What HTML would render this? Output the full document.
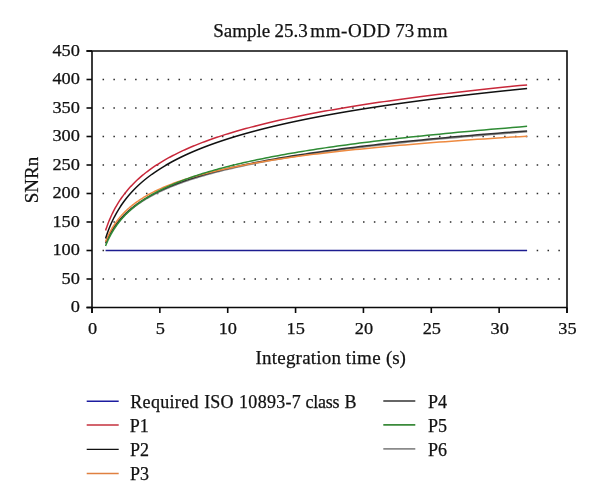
<!DOCTYPE html>
<html><head><meta charset="utf-8"><style>
html,body{margin:0;padding:0;background:#fff;}
body{width:600px;height:503px;overflow:hidden;}
svg{display:block;will-change:transform;}
text{font-family:"Liberation Serif",serif;fill:#111;stroke:#111;stroke-width:0.25px;}
</style></head><body>
<svg width="600" height="503" viewBox="0 0 600 503">
<rect x="102.55" y="278.25" width="1.5" height="1.5" fill="#2a2a2a"/>
<rect x="113.40" y="278.25" width="1.5" height="1.5" fill="#2a2a2a"/>
<rect x="124.26" y="278.25" width="1.5" height="1.5" fill="#2a2a2a"/>
<rect x="135.11" y="278.25" width="1.5" height="1.5" fill="#2a2a2a"/>
<rect x="145.96" y="278.25" width="1.5" height="1.5" fill="#2a2a2a"/>
<rect x="156.81" y="278.25" width="1.5" height="1.5" fill="#2a2a2a"/>
<rect x="167.67" y="278.25" width="1.5" height="1.5" fill="#2a2a2a"/>
<rect x="178.52" y="278.25" width="1.5" height="1.5" fill="#2a2a2a"/>
<rect x="189.37" y="278.25" width="1.5" height="1.5" fill="#2a2a2a"/>
<rect x="200.23" y="278.25" width="1.5" height="1.5" fill="#2a2a2a"/>
<rect x="211.08" y="278.25" width="1.5" height="1.5" fill="#2a2a2a"/>
<rect x="221.93" y="278.25" width="1.5" height="1.5" fill="#2a2a2a"/>
<rect x="232.79" y="278.25" width="1.5" height="1.5" fill="#2a2a2a"/>
<rect x="243.64" y="278.25" width="1.5" height="1.5" fill="#2a2a2a"/>
<rect x="254.49" y="278.25" width="1.5" height="1.5" fill="#2a2a2a"/>
<rect x="265.34" y="278.25" width="1.5" height="1.5" fill="#2a2a2a"/>
<rect x="276.20" y="278.25" width="1.5" height="1.5" fill="#2a2a2a"/>
<rect x="287.05" y="278.25" width="1.5" height="1.5" fill="#2a2a2a"/>
<rect x="297.90" y="278.25" width="1.5" height="1.5" fill="#2a2a2a"/>
<rect x="308.76" y="278.25" width="1.5" height="1.5" fill="#2a2a2a"/>
<rect x="319.61" y="278.25" width="1.5" height="1.5" fill="#2a2a2a"/>
<rect x="330.46" y="278.25" width="1.5" height="1.5" fill="#2a2a2a"/>
<rect x="341.32" y="278.25" width="1.5" height="1.5" fill="#2a2a2a"/>
<rect x="352.17" y="278.25" width="1.5" height="1.5" fill="#2a2a2a"/>
<rect x="363.02" y="278.25" width="1.5" height="1.5" fill="#2a2a2a"/>
<rect x="373.88" y="278.25" width="1.5" height="1.5" fill="#2a2a2a"/>
<rect x="384.73" y="278.25" width="1.5" height="1.5" fill="#2a2a2a"/>
<rect x="395.58" y="278.25" width="1.5" height="1.5" fill="#2a2a2a"/>
<rect x="406.43" y="278.25" width="1.5" height="1.5" fill="#2a2a2a"/>
<rect x="417.29" y="278.25" width="1.5" height="1.5" fill="#2a2a2a"/>
<rect x="428.14" y="278.25" width="1.5" height="1.5" fill="#2a2a2a"/>
<rect x="438.99" y="278.25" width="1.5" height="1.5" fill="#2a2a2a"/>
<rect x="449.85" y="278.25" width="1.5" height="1.5" fill="#2a2a2a"/>
<rect x="460.70" y="278.25" width="1.5" height="1.5" fill="#2a2a2a"/>
<rect x="471.55" y="278.25" width="1.5" height="1.5" fill="#2a2a2a"/>
<rect x="482.41" y="278.25" width="1.5" height="1.5" fill="#2a2a2a"/>
<rect x="493.26" y="278.25" width="1.5" height="1.5" fill="#2a2a2a"/>
<rect x="504.11" y="278.25" width="1.5" height="1.5" fill="#2a2a2a"/>
<rect x="514.96" y="278.25" width="1.5" height="1.5" fill="#2a2a2a"/>
<rect x="525.82" y="278.25" width="1.5" height="1.5" fill="#2a2a2a"/>
<rect x="536.67" y="278.25" width="1.5" height="1.5" fill="#2a2a2a"/>
<rect x="547.52" y="278.25" width="1.5" height="1.5" fill="#2a2a2a"/>
<rect x="558.38" y="278.25" width="1.5" height="1.5" fill="#2a2a2a"/>
<rect x="102.55" y="249.75" width="1.5" height="1.5" fill="#2a2a2a"/>
<rect x="536.67" y="249.75" width="1.5" height="1.5" fill="#2a2a2a"/>
<rect x="547.52" y="249.75" width="1.5" height="1.5" fill="#2a2a2a"/>
<rect x="558.38" y="249.75" width="1.5" height="1.5" fill="#2a2a2a"/>
<rect x="102.55" y="221.25" width="1.5" height="1.5" fill="#2a2a2a"/>
<rect x="113.40" y="221.25" width="1.5" height="1.5" fill="#2a2a2a"/>
<rect x="124.26" y="221.25" width="1.5" height="1.5" fill="#2a2a2a"/>
<rect x="135.11" y="221.25" width="1.5" height="1.5" fill="#2a2a2a"/>
<rect x="145.96" y="221.25" width="1.5" height="1.5" fill="#2a2a2a"/>
<rect x="156.81" y="221.25" width="1.5" height="1.5" fill="#2a2a2a"/>
<rect x="167.67" y="221.25" width="1.5" height="1.5" fill="#2a2a2a"/>
<rect x="178.52" y="221.25" width="1.5" height="1.5" fill="#2a2a2a"/>
<rect x="189.37" y="221.25" width="1.5" height="1.5" fill="#2a2a2a"/>
<rect x="200.23" y="221.25" width="1.5" height="1.5" fill="#2a2a2a"/>
<rect x="211.08" y="221.25" width="1.5" height="1.5" fill="#2a2a2a"/>
<rect x="221.93" y="221.25" width="1.5" height="1.5" fill="#2a2a2a"/>
<rect x="232.79" y="221.25" width="1.5" height="1.5" fill="#2a2a2a"/>
<rect x="243.64" y="221.25" width="1.5" height="1.5" fill="#2a2a2a"/>
<rect x="254.49" y="221.25" width="1.5" height="1.5" fill="#2a2a2a"/>
<rect x="265.34" y="221.25" width="1.5" height="1.5" fill="#2a2a2a"/>
<rect x="276.20" y="221.25" width="1.5" height="1.5" fill="#2a2a2a"/>
<rect x="287.05" y="221.25" width="1.5" height="1.5" fill="#2a2a2a"/>
<rect x="297.90" y="221.25" width="1.5" height="1.5" fill="#2a2a2a"/>
<rect x="308.76" y="221.25" width="1.5" height="1.5" fill="#2a2a2a"/>
<rect x="319.61" y="221.25" width="1.5" height="1.5" fill="#2a2a2a"/>
<rect x="330.46" y="221.25" width="1.5" height="1.5" fill="#2a2a2a"/>
<rect x="341.32" y="221.25" width="1.5" height="1.5" fill="#2a2a2a"/>
<rect x="352.17" y="221.25" width="1.5" height="1.5" fill="#2a2a2a"/>
<rect x="363.02" y="221.25" width="1.5" height="1.5" fill="#2a2a2a"/>
<rect x="373.88" y="221.25" width="1.5" height="1.5" fill="#2a2a2a"/>
<rect x="384.73" y="221.25" width="1.5" height="1.5" fill="#2a2a2a"/>
<rect x="395.58" y="221.25" width="1.5" height="1.5" fill="#2a2a2a"/>
<rect x="406.43" y="221.25" width="1.5" height="1.5" fill="#2a2a2a"/>
<rect x="417.29" y="221.25" width="1.5" height="1.5" fill="#2a2a2a"/>
<rect x="428.14" y="221.25" width="1.5" height="1.5" fill="#2a2a2a"/>
<rect x="438.99" y="221.25" width="1.5" height="1.5" fill="#2a2a2a"/>
<rect x="449.85" y="221.25" width="1.5" height="1.5" fill="#2a2a2a"/>
<rect x="460.70" y="221.25" width="1.5" height="1.5" fill="#2a2a2a"/>
<rect x="471.55" y="221.25" width="1.5" height="1.5" fill="#2a2a2a"/>
<rect x="482.41" y="221.25" width="1.5" height="1.5" fill="#2a2a2a"/>
<rect x="493.26" y="221.25" width="1.5" height="1.5" fill="#2a2a2a"/>
<rect x="504.11" y="221.25" width="1.5" height="1.5" fill="#2a2a2a"/>
<rect x="514.96" y="221.25" width="1.5" height="1.5" fill="#2a2a2a"/>
<rect x="525.82" y="221.25" width="1.5" height="1.5" fill="#2a2a2a"/>
<rect x="536.67" y="221.25" width="1.5" height="1.5" fill="#2a2a2a"/>
<rect x="547.52" y="221.25" width="1.5" height="1.5" fill="#2a2a2a"/>
<rect x="558.38" y="221.25" width="1.5" height="1.5" fill="#2a2a2a"/>
<rect x="102.55" y="192.75" width="1.5" height="1.5" fill="#2a2a2a"/>
<rect x="113.40" y="192.75" width="1.5" height="1.5" fill="#2a2a2a"/>
<rect x="124.26" y="192.75" width="1.5" height="1.5" fill="#2a2a2a"/>
<rect x="135.11" y="192.75" width="1.5" height="1.5" fill="#2a2a2a"/>
<rect x="145.96" y="192.75" width="1.5" height="1.5" fill="#2a2a2a"/>
<rect x="156.81" y="192.75" width="1.5" height="1.5" fill="#2a2a2a"/>
<rect x="167.67" y="192.75" width="1.5" height="1.5" fill="#2a2a2a"/>
<rect x="178.52" y="192.75" width="1.5" height="1.5" fill="#2a2a2a"/>
<rect x="189.37" y="192.75" width="1.5" height="1.5" fill="#2a2a2a"/>
<rect x="200.23" y="192.75" width="1.5" height="1.5" fill="#2a2a2a"/>
<rect x="211.08" y="192.75" width="1.5" height="1.5" fill="#2a2a2a"/>
<rect x="221.93" y="192.75" width="1.5" height="1.5" fill="#2a2a2a"/>
<rect x="232.79" y="192.75" width="1.5" height="1.5" fill="#2a2a2a"/>
<rect x="243.64" y="192.75" width="1.5" height="1.5" fill="#2a2a2a"/>
<rect x="254.49" y="192.75" width="1.5" height="1.5" fill="#2a2a2a"/>
<rect x="265.34" y="192.75" width="1.5" height="1.5" fill="#2a2a2a"/>
<rect x="276.20" y="192.75" width="1.5" height="1.5" fill="#2a2a2a"/>
<rect x="287.05" y="192.75" width="1.5" height="1.5" fill="#2a2a2a"/>
<rect x="297.90" y="192.75" width="1.5" height="1.5" fill="#2a2a2a"/>
<rect x="308.76" y="192.75" width="1.5" height="1.5" fill="#2a2a2a"/>
<rect x="319.61" y="192.75" width="1.5" height="1.5" fill="#2a2a2a"/>
<rect x="330.46" y="192.75" width="1.5" height="1.5" fill="#2a2a2a"/>
<rect x="341.32" y="192.75" width="1.5" height="1.5" fill="#2a2a2a"/>
<rect x="352.17" y="192.75" width="1.5" height="1.5" fill="#2a2a2a"/>
<rect x="363.02" y="192.75" width="1.5" height="1.5" fill="#2a2a2a"/>
<rect x="373.88" y="192.75" width="1.5" height="1.5" fill="#2a2a2a"/>
<rect x="384.73" y="192.75" width="1.5" height="1.5" fill="#2a2a2a"/>
<rect x="395.58" y="192.75" width="1.5" height="1.5" fill="#2a2a2a"/>
<rect x="406.43" y="192.75" width="1.5" height="1.5" fill="#2a2a2a"/>
<rect x="417.29" y="192.75" width="1.5" height="1.5" fill="#2a2a2a"/>
<rect x="428.14" y="192.75" width="1.5" height="1.5" fill="#2a2a2a"/>
<rect x="438.99" y="192.75" width="1.5" height="1.5" fill="#2a2a2a"/>
<rect x="449.85" y="192.75" width="1.5" height="1.5" fill="#2a2a2a"/>
<rect x="460.70" y="192.75" width="1.5" height="1.5" fill="#2a2a2a"/>
<rect x="471.55" y="192.75" width="1.5" height="1.5" fill="#2a2a2a"/>
<rect x="482.41" y="192.75" width="1.5" height="1.5" fill="#2a2a2a"/>
<rect x="493.26" y="192.75" width="1.5" height="1.5" fill="#2a2a2a"/>
<rect x="504.11" y="192.75" width="1.5" height="1.5" fill="#2a2a2a"/>
<rect x="514.96" y="192.75" width="1.5" height="1.5" fill="#2a2a2a"/>
<rect x="525.82" y="192.75" width="1.5" height="1.5" fill="#2a2a2a"/>
<rect x="536.67" y="192.75" width="1.5" height="1.5" fill="#2a2a2a"/>
<rect x="547.52" y="192.75" width="1.5" height="1.5" fill="#2a2a2a"/>
<rect x="558.38" y="192.75" width="1.5" height="1.5" fill="#2a2a2a"/>
<rect x="102.55" y="164.25" width="1.5" height="1.5" fill="#2a2a2a"/>
<rect x="113.40" y="164.25" width="1.5" height="1.5" fill="#2a2a2a"/>
<rect x="124.26" y="164.25" width="1.5" height="1.5" fill="#2a2a2a"/>
<rect x="135.11" y="164.25" width="1.5" height="1.5" fill="#2a2a2a"/>
<rect x="145.96" y="164.25" width="1.5" height="1.5" fill="#2a2a2a"/>
<rect x="156.81" y="164.25" width="1.5" height="1.5" fill="#2a2a2a"/>
<rect x="167.67" y="164.25" width="1.5" height="1.5" fill="#2a2a2a"/>
<rect x="178.52" y="164.25" width="1.5" height="1.5" fill="#2a2a2a"/>
<rect x="189.37" y="164.25" width="1.5" height="1.5" fill="#2a2a2a"/>
<rect x="200.23" y="164.25" width="1.5" height="1.5" fill="#2a2a2a"/>
<rect x="211.08" y="164.25" width="1.5" height="1.5" fill="#2a2a2a"/>
<rect x="221.93" y="164.25" width="1.5" height="1.5" fill="#2a2a2a"/>
<rect x="232.79" y="164.25" width="1.5" height="1.5" fill="#2a2a2a"/>
<rect x="243.64" y="164.25" width="1.5" height="1.5" fill="#2a2a2a"/>
<rect x="254.49" y="164.25" width="1.5" height="1.5" fill="#2a2a2a"/>
<rect x="265.34" y="164.25" width="1.5" height="1.5" fill="#2a2a2a"/>
<rect x="276.20" y="164.25" width="1.5" height="1.5" fill="#2a2a2a"/>
<rect x="287.05" y="164.25" width="1.5" height="1.5" fill="#2a2a2a"/>
<rect x="297.90" y="164.25" width="1.5" height="1.5" fill="#2a2a2a"/>
<rect x="308.76" y="164.25" width="1.5" height="1.5" fill="#2a2a2a"/>
<rect x="319.61" y="164.25" width="1.5" height="1.5" fill="#2a2a2a"/>
<rect x="330.46" y="164.25" width="1.5" height="1.5" fill="#2a2a2a"/>
<rect x="341.32" y="164.25" width="1.5" height="1.5" fill="#2a2a2a"/>
<rect x="352.17" y="164.25" width="1.5" height="1.5" fill="#2a2a2a"/>
<rect x="363.02" y="164.25" width="1.5" height="1.5" fill="#2a2a2a"/>
<rect x="373.88" y="164.25" width="1.5" height="1.5" fill="#2a2a2a"/>
<rect x="384.73" y="164.25" width="1.5" height="1.5" fill="#2a2a2a"/>
<rect x="395.58" y="164.25" width="1.5" height="1.5" fill="#2a2a2a"/>
<rect x="406.43" y="164.25" width="1.5" height="1.5" fill="#2a2a2a"/>
<rect x="417.29" y="164.25" width="1.5" height="1.5" fill="#2a2a2a"/>
<rect x="428.14" y="164.25" width="1.5" height="1.5" fill="#2a2a2a"/>
<rect x="438.99" y="164.25" width="1.5" height="1.5" fill="#2a2a2a"/>
<rect x="449.85" y="164.25" width="1.5" height="1.5" fill="#2a2a2a"/>
<rect x="460.70" y="164.25" width="1.5" height="1.5" fill="#2a2a2a"/>
<rect x="471.55" y="164.25" width="1.5" height="1.5" fill="#2a2a2a"/>
<rect x="482.41" y="164.25" width="1.5" height="1.5" fill="#2a2a2a"/>
<rect x="493.26" y="164.25" width="1.5" height="1.5" fill="#2a2a2a"/>
<rect x="504.11" y="164.25" width="1.5" height="1.5" fill="#2a2a2a"/>
<rect x="514.96" y="164.25" width="1.5" height="1.5" fill="#2a2a2a"/>
<rect x="525.82" y="164.25" width="1.5" height="1.5" fill="#2a2a2a"/>
<rect x="536.67" y="164.25" width="1.5" height="1.5" fill="#2a2a2a"/>
<rect x="547.52" y="164.25" width="1.5" height="1.5" fill="#2a2a2a"/>
<rect x="558.38" y="164.25" width="1.5" height="1.5" fill="#2a2a2a"/>
<rect x="102.55" y="135.75" width="1.5" height="1.5" fill="#2a2a2a"/>
<rect x="113.40" y="135.75" width="1.5" height="1.5" fill="#2a2a2a"/>
<rect x="124.26" y="135.75" width="1.5" height="1.5" fill="#2a2a2a"/>
<rect x="135.11" y="135.75" width="1.5" height="1.5" fill="#2a2a2a"/>
<rect x="145.96" y="135.75" width="1.5" height="1.5" fill="#2a2a2a"/>
<rect x="156.81" y="135.75" width="1.5" height="1.5" fill="#2a2a2a"/>
<rect x="167.67" y="135.75" width="1.5" height="1.5" fill="#2a2a2a"/>
<rect x="178.52" y="135.75" width="1.5" height="1.5" fill="#2a2a2a"/>
<rect x="189.37" y="135.75" width="1.5" height="1.5" fill="#2a2a2a"/>
<rect x="200.23" y="135.75" width="1.5" height="1.5" fill="#2a2a2a"/>
<rect x="211.08" y="135.75" width="1.5" height="1.5" fill="#2a2a2a"/>
<rect x="221.93" y="135.75" width="1.5" height="1.5" fill="#2a2a2a"/>
<rect x="232.79" y="135.75" width="1.5" height="1.5" fill="#2a2a2a"/>
<rect x="243.64" y="135.75" width="1.5" height="1.5" fill="#2a2a2a"/>
<rect x="254.49" y="135.75" width="1.5" height="1.5" fill="#2a2a2a"/>
<rect x="265.34" y="135.75" width="1.5" height="1.5" fill="#2a2a2a"/>
<rect x="276.20" y="135.75" width="1.5" height="1.5" fill="#2a2a2a"/>
<rect x="287.05" y="135.75" width="1.5" height="1.5" fill="#2a2a2a"/>
<rect x="297.90" y="135.75" width="1.5" height="1.5" fill="#2a2a2a"/>
<rect x="308.76" y="135.75" width="1.5" height="1.5" fill="#2a2a2a"/>
<rect x="319.61" y="135.75" width="1.5" height="1.5" fill="#2a2a2a"/>
<rect x="330.46" y="135.75" width="1.5" height="1.5" fill="#2a2a2a"/>
<rect x="341.32" y="135.75" width="1.5" height="1.5" fill="#2a2a2a"/>
<rect x="352.17" y="135.75" width="1.5" height="1.5" fill="#2a2a2a"/>
<rect x="363.02" y="135.75" width="1.5" height="1.5" fill="#2a2a2a"/>
<rect x="373.88" y="135.75" width="1.5" height="1.5" fill="#2a2a2a"/>
<rect x="384.73" y="135.75" width="1.5" height="1.5" fill="#2a2a2a"/>
<rect x="395.58" y="135.75" width="1.5" height="1.5" fill="#2a2a2a"/>
<rect x="406.43" y="135.75" width="1.5" height="1.5" fill="#2a2a2a"/>
<rect x="417.29" y="135.75" width="1.5" height="1.5" fill="#2a2a2a"/>
<rect x="428.14" y="135.75" width="1.5" height="1.5" fill="#2a2a2a"/>
<rect x="438.99" y="135.75" width="1.5" height="1.5" fill="#2a2a2a"/>
<rect x="449.85" y="135.75" width="1.5" height="1.5" fill="#2a2a2a"/>
<rect x="460.70" y="135.75" width="1.5" height="1.5" fill="#2a2a2a"/>
<rect x="471.55" y="135.75" width="1.5" height="1.5" fill="#2a2a2a"/>
<rect x="482.41" y="135.75" width="1.5" height="1.5" fill="#2a2a2a"/>
<rect x="493.26" y="135.75" width="1.5" height="1.5" fill="#2a2a2a"/>
<rect x="504.11" y="135.75" width="1.5" height="1.5" fill="#2a2a2a"/>
<rect x="514.96" y="135.75" width="1.5" height="1.5" fill="#2a2a2a"/>
<rect x="525.82" y="135.75" width="1.5" height="1.5" fill="#2a2a2a"/>
<rect x="536.67" y="135.75" width="1.5" height="1.5" fill="#2a2a2a"/>
<rect x="547.52" y="135.75" width="1.5" height="1.5" fill="#2a2a2a"/>
<rect x="558.38" y="135.75" width="1.5" height="1.5" fill="#2a2a2a"/>
<rect x="102.55" y="107.25" width="1.5" height="1.5" fill="#2a2a2a"/>
<rect x="113.40" y="107.25" width="1.5" height="1.5" fill="#2a2a2a"/>
<rect x="124.26" y="107.25" width="1.5" height="1.5" fill="#2a2a2a"/>
<rect x="135.11" y="107.25" width="1.5" height="1.5" fill="#2a2a2a"/>
<rect x="145.96" y="107.25" width="1.5" height="1.5" fill="#2a2a2a"/>
<rect x="156.81" y="107.25" width="1.5" height="1.5" fill="#2a2a2a"/>
<rect x="167.67" y="107.25" width="1.5" height="1.5" fill="#2a2a2a"/>
<rect x="178.52" y="107.25" width="1.5" height="1.5" fill="#2a2a2a"/>
<rect x="189.37" y="107.25" width="1.5" height="1.5" fill="#2a2a2a"/>
<rect x="200.23" y="107.25" width="1.5" height="1.5" fill="#2a2a2a"/>
<rect x="211.08" y="107.25" width="1.5" height="1.5" fill="#2a2a2a"/>
<rect x="221.93" y="107.25" width="1.5" height="1.5" fill="#2a2a2a"/>
<rect x="232.79" y="107.25" width="1.5" height="1.5" fill="#2a2a2a"/>
<rect x="243.64" y="107.25" width="1.5" height="1.5" fill="#2a2a2a"/>
<rect x="254.49" y="107.25" width="1.5" height="1.5" fill="#2a2a2a"/>
<rect x="265.34" y="107.25" width="1.5" height="1.5" fill="#2a2a2a"/>
<rect x="276.20" y="107.25" width="1.5" height="1.5" fill="#2a2a2a"/>
<rect x="287.05" y="107.25" width="1.5" height="1.5" fill="#2a2a2a"/>
<rect x="297.90" y="107.25" width="1.5" height="1.5" fill="#2a2a2a"/>
<rect x="308.76" y="107.25" width="1.5" height="1.5" fill="#2a2a2a"/>
<rect x="319.61" y="107.25" width="1.5" height="1.5" fill="#2a2a2a"/>
<rect x="330.46" y="107.25" width="1.5" height="1.5" fill="#2a2a2a"/>
<rect x="341.32" y="107.25" width="1.5" height="1.5" fill="#2a2a2a"/>
<rect x="352.17" y="107.25" width="1.5" height="1.5" fill="#2a2a2a"/>
<rect x="363.02" y="107.25" width="1.5" height="1.5" fill="#2a2a2a"/>
<rect x="373.88" y="107.25" width="1.5" height="1.5" fill="#2a2a2a"/>
<rect x="384.73" y="107.25" width="1.5" height="1.5" fill="#2a2a2a"/>
<rect x="395.58" y="107.25" width="1.5" height="1.5" fill="#2a2a2a"/>
<rect x="406.43" y="107.25" width="1.5" height="1.5" fill="#2a2a2a"/>
<rect x="417.29" y="107.25" width="1.5" height="1.5" fill="#2a2a2a"/>
<rect x="428.14" y="107.25" width="1.5" height="1.5" fill="#2a2a2a"/>
<rect x="438.99" y="107.25" width="1.5" height="1.5" fill="#2a2a2a"/>
<rect x="449.85" y="107.25" width="1.5" height="1.5" fill="#2a2a2a"/>
<rect x="460.70" y="107.25" width="1.5" height="1.5" fill="#2a2a2a"/>
<rect x="471.55" y="107.25" width="1.5" height="1.5" fill="#2a2a2a"/>
<rect x="482.41" y="107.25" width="1.5" height="1.5" fill="#2a2a2a"/>
<rect x="493.26" y="107.25" width="1.5" height="1.5" fill="#2a2a2a"/>
<rect x="504.11" y="107.25" width="1.5" height="1.5" fill="#2a2a2a"/>
<rect x="514.96" y="107.25" width="1.5" height="1.5" fill="#2a2a2a"/>
<rect x="525.82" y="107.25" width="1.5" height="1.5" fill="#2a2a2a"/>
<rect x="536.67" y="107.25" width="1.5" height="1.5" fill="#2a2a2a"/>
<rect x="547.52" y="107.25" width="1.5" height="1.5" fill="#2a2a2a"/>
<rect x="558.38" y="107.25" width="1.5" height="1.5" fill="#2a2a2a"/>
<rect x="102.55" y="78.75" width="1.5" height="1.5" fill="#2a2a2a"/>
<rect x="113.40" y="78.75" width="1.5" height="1.5" fill="#2a2a2a"/>
<rect x="124.26" y="78.75" width="1.5" height="1.5" fill="#2a2a2a"/>
<rect x="135.11" y="78.75" width="1.5" height="1.5" fill="#2a2a2a"/>
<rect x="145.96" y="78.75" width="1.5" height="1.5" fill="#2a2a2a"/>
<rect x="156.81" y="78.75" width="1.5" height="1.5" fill="#2a2a2a"/>
<rect x="167.67" y="78.75" width="1.5" height="1.5" fill="#2a2a2a"/>
<rect x="178.52" y="78.75" width="1.5" height="1.5" fill="#2a2a2a"/>
<rect x="189.37" y="78.75" width="1.5" height="1.5" fill="#2a2a2a"/>
<rect x="200.23" y="78.75" width="1.5" height="1.5" fill="#2a2a2a"/>
<rect x="211.08" y="78.75" width="1.5" height="1.5" fill="#2a2a2a"/>
<rect x="221.93" y="78.75" width="1.5" height="1.5" fill="#2a2a2a"/>
<rect x="232.79" y="78.75" width="1.5" height="1.5" fill="#2a2a2a"/>
<rect x="243.64" y="78.75" width="1.5" height="1.5" fill="#2a2a2a"/>
<rect x="254.49" y="78.75" width="1.5" height="1.5" fill="#2a2a2a"/>
<rect x="265.34" y="78.75" width="1.5" height="1.5" fill="#2a2a2a"/>
<rect x="276.20" y="78.75" width="1.5" height="1.5" fill="#2a2a2a"/>
<rect x="287.05" y="78.75" width="1.5" height="1.5" fill="#2a2a2a"/>
<rect x="297.90" y="78.75" width="1.5" height="1.5" fill="#2a2a2a"/>
<rect x="308.76" y="78.75" width="1.5" height="1.5" fill="#2a2a2a"/>
<rect x="319.61" y="78.75" width="1.5" height="1.5" fill="#2a2a2a"/>
<rect x="330.46" y="78.75" width="1.5" height="1.5" fill="#2a2a2a"/>
<rect x="341.32" y="78.75" width="1.5" height="1.5" fill="#2a2a2a"/>
<rect x="352.17" y="78.75" width="1.5" height="1.5" fill="#2a2a2a"/>
<rect x="363.02" y="78.75" width="1.5" height="1.5" fill="#2a2a2a"/>
<rect x="373.88" y="78.75" width="1.5" height="1.5" fill="#2a2a2a"/>
<rect x="384.73" y="78.75" width="1.5" height="1.5" fill="#2a2a2a"/>
<rect x="395.58" y="78.75" width="1.5" height="1.5" fill="#2a2a2a"/>
<rect x="406.43" y="78.75" width="1.5" height="1.5" fill="#2a2a2a"/>
<rect x="417.29" y="78.75" width="1.5" height="1.5" fill="#2a2a2a"/>
<rect x="428.14" y="78.75" width="1.5" height="1.5" fill="#2a2a2a"/>
<rect x="438.99" y="78.75" width="1.5" height="1.5" fill="#2a2a2a"/>
<rect x="449.85" y="78.75" width="1.5" height="1.5" fill="#2a2a2a"/>
<rect x="460.70" y="78.75" width="1.5" height="1.5" fill="#2a2a2a"/>
<rect x="471.55" y="78.75" width="1.5" height="1.5" fill="#2a2a2a"/>
<rect x="482.41" y="78.75" width="1.5" height="1.5" fill="#2a2a2a"/>
<rect x="493.26" y="78.75" width="1.5" height="1.5" fill="#2a2a2a"/>
<rect x="504.11" y="78.75" width="1.5" height="1.5" fill="#2a2a2a"/>
<rect x="514.96" y="78.75" width="1.5" height="1.5" fill="#2a2a2a"/>
<rect x="525.82" y="78.75" width="1.5" height="1.5" fill="#2a2a2a"/>
<rect x="536.67" y="78.75" width="1.5" height="1.5" fill="#2a2a2a"/>
<rect x="547.52" y="78.75" width="1.5" height="1.5" fill="#2a2a2a"/>
<rect x="558.38" y="78.75" width="1.5" height="1.5" fill="#2a2a2a"/>
<path d="M86.5,51.0 H567.0 V313.0 M92.0,51.0 V313.0 M86.5,307.5 H567.0" stroke="#0a0a0a" stroke-width="1.6" fill="none"/>
<path d="M86.5,307.50 H92.0" stroke="#0a0a0a" stroke-width="1.6"/>
<text transform="translate(70.70,312.40) scale(1.09,1)" style="font-size:16.8px">0</text>
<path d="M86.5,279.00 H92.0" stroke="#0a0a0a" stroke-width="1.6"/>
<text transform="translate(61.54,283.90) scale(1.09,1)" style="font-size:16.8px">50</text>
<path d="M86.5,250.50 H92.0" stroke="#0a0a0a" stroke-width="1.6"/>
<text transform="translate(52.39,255.40) scale(1.09,1)" style="font-size:16.8px">100</text>
<path d="M86.5,222.00 H92.0" stroke="#0a0a0a" stroke-width="1.6"/>
<text transform="translate(52.39,226.90) scale(1.09,1)" style="font-size:16.8px">150</text>
<path d="M86.5,193.50 H92.0" stroke="#0a0a0a" stroke-width="1.6"/>
<text transform="translate(52.39,198.40) scale(1.09,1)" style="font-size:16.8px">200</text>
<path d="M86.5,165.00 H92.0" stroke="#0a0a0a" stroke-width="1.6"/>
<text transform="translate(52.39,169.90) scale(1.09,1)" style="font-size:16.8px">250</text>
<path d="M86.5,136.50 H92.0" stroke="#0a0a0a" stroke-width="1.6"/>
<text transform="translate(52.39,141.40) scale(1.09,1)" style="font-size:16.8px">300</text>
<path d="M86.5,108.00 H92.0" stroke="#0a0a0a" stroke-width="1.6"/>
<text transform="translate(52.39,112.90) scale(1.09,1)" style="font-size:16.8px">350</text>
<path d="M86.5,79.50 H92.0" stroke="#0a0a0a" stroke-width="1.6"/>
<text transform="translate(52.39,84.40) scale(1.09,1)" style="font-size:16.8px">400</text>
<path d="M86.5,51.00 H92.0" stroke="#0a0a0a" stroke-width="1.6"/>
<text transform="translate(52.39,55.90) scale(1.09,1)" style="font-size:16.8px">450</text>
<path d="M92.00,307.5 V313.0" stroke="#0a0a0a" stroke-width="1.6"/>
<text transform="translate(88.02,334.40) scale(1.09,1)" style="font-size:16.8px">0</text>
<path d="M159.86,307.5 V313.0" stroke="#0a0a0a" stroke-width="1.6"/>
<text transform="translate(155.66,334.40) scale(1.09,1)" style="font-size:16.8px">5</text>
<path d="M227.71,307.5 V313.0" stroke="#0a0a0a" stroke-width="1.6"/>
<text transform="translate(218.67,334.40) scale(1.09,1)" style="font-size:16.8px">10</text>
<path d="M295.57,307.5 V313.0" stroke="#0a0a0a" stroke-width="1.6"/>
<text transform="translate(286.52,334.40) scale(1.09,1)" style="font-size:16.8px">15</text>
<path d="M363.43,307.5 V313.0" stroke="#0a0a0a" stroke-width="1.6"/>
<text transform="translate(354.82,334.40) scale(1.09,1)" style="font-size:16.8px">20</text>
<path d="M431.29,307.5 V313.0" stroke="#0a0a0a" stroke-width="1.6"/>
<text transform="translate(422.68,334.40) scale(1.09,1)" style="font-size:16.8px">25</text>
<path d="M499.14,307.5 V313.0" stroke="#0a0a0a" stroke-width="1.6"/>
<text transform="translate(490.48,334.40) scale(1.09,1)" style="font-size:16.8px">30</text>
<path d="M567.00,307.5 V313.0" stroke="#0a0a0a" stroke-width="1.6"/>
<text transform="translate(558.34,334.40) scale(1.09,1)" style="font-size:16.8px">35</text>
<path d="M105.57,250.50 H527.10" stroke="#1c1c90" stroke-width="1.6"/>
<path d="M105.57,243.66 L105.81,243.10 L106.05,242.54 L106.30,241.98 L106.55,241.42 L106.80,240.86 L107.06,240.30 L107.32,239.74 L107.59,239.19 L107.86,238.63 L108.14,238.07 L108.42,237.51 L108.71,236.95 L109.00,236.39 L109.30,235.83 L109.60,235.27 L109.91,234.71 L110.22,234.15 L110.54,233.59 L110.87,233.03 L111.20,232.47 L111.53,231.91 L111.87,231.35 L112.22,230.79 L112.58,230.24 L112.93,229.68 L113.30,229.12 L113.67,228.56 L114.05,228.00 L114.44,227.44 L114.83,226.88 L115.23,226.32 L115.64,225.76 L116.05,225.20 L116.47,224.64 L116.90,224.08 L117.33,223.52 L117.78,222.96 L118.23,222.40 L118.69,221.84 L119.15,221.29 L119.63,220.73 L120.11,220.17 L120.60,219.61 L121.10,219.05 L121.61,218.49 L122.13,217.93 L122.66,217.37 L123.19,216.81 L123.74,216.25 L124.29,215.69 L124.86,215.13 L125.43,214.57 L126.02,214.01 L126.61,213.45 L127.22,212.90 L127.83,212.34 L128.46,211.78 L129.10,211.22 L129.75,210.66 L130.41,210.10 L131.08,209.54 L131.76,208.98 L132.46,208.42 L133.17,207.86 L133.89,207.30 L134.62,206.74 L135.36,206.18 L136.12,205.62 L136.89,205.06 L137.68,204.50 L138.48,203.95 L139.29,203.39 L140.12,202.83 L140.96,202.27 L141.82,201.71 L142.69,201.15 L143.57,200.59 L144.47,200.03 L145.39,199.47 L146.33,198.91 L147.28,198.35 L148.24,197.79 L149.23,197.23 L150.23,196.67 L151.25,196.11 L152.28,195.56 L153.34,195.00 L154.41,194.44 L155.50,193.88 L156.61,193.32 L157.74,192.76 L158.89,192.20 L160.06,191.64 L161.25,191.08 L162.46,190.52 L163.69,189.96 L164.95,189.40 L166.22,188.84 L167.52,188.28 L168.84,187.72 L170.19,187.16 L171.55,186.61 L172.95,186.05 L174.36,185.49 L175.80,184.93 L177.27,184.37 L178.76,183.81 L180.28,183.25 L181.82,182.69 L183.39,182.13 L184.99,181.57 L186.62,181.01 L188.27,180.45 L189.95,179.89 L191.67,179.33 L193.41,178.77 L195.18,178.21 L196.99,177.66 L198.83,177.10 L200.69,176.54 L202.59,175.98 L204.53,175.42 L206.50,174.86 L208.50,174.30 L210.54,173.74 L212.61,173.18 L214.72,172.62 L216.87,172.06 L219.05,171.50 L221.27,170.94 L223.53,170.38 L225.83,169.82 L228.17,169.27 L230.55,168.71 L232.98,168.15 L235.44,167.59 L237.95,167.03 L240.50,166.47 L243.10,165.91 L245.74,165.35 L248.43,164.79 L251.17,164.23 L253.95,163.67 L256.79,163.11 L259.67,162.55 L262.60,161.99 L265.58,161.43 L268.62,160.87 L271.71,160.32 L274.85,159.76 L278.05,159.20 L281.30,158.64 L284.61,158.08 L287.98,157.52 L291.41,156.96 L294.90,156.40 L298.45,155.84 L302.06,155.28 L305.73,154.72 L309.47,154.16 L313.27,153.60 L317.14,153.04 L321.08,152.48 L325.09,151.92 L329.16,151.37 L333.31,150.81 L337.53,150.25 L341.82,149.69 L346.19,149.13 L350.64,148.57 L355.16,148.01 L359.77,147.45 L364.45,146.89 L369.21,146.33 L374.06,145.77 L378.99,145.21 L384.01,144.65 L389.12,144.09 L394.32,143.53 L399.60,142.98 L404.98,142.42 L410.46,141.86 L416.03,141.30 L421.69,140.74 L427.46,140.18 L433.33,139.62 L439.30,139.06 L445.37,138.50 L451.55,137.94 L457.84,137.38 L464.24,136.82 L470.75,136.26 L477.37,135.70 L484.11,135.14 L490.97,134.58 L497.95,134.03 L505.05,133.47 L512.27,132.91 L519.62,132.35 L527.10,131.79" stroke="#8a8a8a" stroke-width="1.5" fill="none"/>
<path d="M105.57,242.81 L105.81,242.25 L106.05,241.69 L106.30,241.13 L106.55,240.57 L106.80,240.01 L107.06,239.45 L107.32,238.89 L107.59,238.33 L107.86,237.77 L108.14,237.21 L108.42,236.65 L108.71,236.09 L109.00,235.53 L109.30,234.97 L109.60,234.41 L109.91,233.86 L110.22,233.30 L110.54,232.74 L110.87,232.18 L111.20,231.62 L111.53,231.06 L111.87,230.50 L112.22,229.94 L112.58,229.38 L112.93,228.82 L113.30,228.26 L113.67,227.70 L114.05,227.14 L114.44,226.58 L114.83,226.02 L115.23,225.46 L115.64,224.91 L116.05,224.35 L116.47,223.79 L116.90,223.23 L117.33,222.67 L117.78,222.11 L118.23,221.55 L118.69,220.99 L119.15,220.43 L119.63,219.87 L120.11,219.31 L120.60,218.75 L121.10,218.19 L121.61,217.63 L122.13,217.07 L122.66,216.52 L123.19,215.96 L123.74,215.40 L124.29,214.84 L124.86,214.28 L125.43,213.72 L126.02,213.16 L126.61,212.60 L127.22,212.04 L127.83,211.48 L128.46,210.92 L129.10,210.36 L129.75,209.80 L130.41,209.24 L131.08,208.68 L131.76,208.12 L132.46,207.57 L133.17,207.01 L133.89,206.45 L134.62,205.89 L135.36,205.33 L136.12,204.77 L136.89,204.21 L137.68,203.65 L138.48,203.09 L139.29,202.53 L140.12,201.97 L140.96,201.41 L141.82,200.85 L142.69,200.29 L143.57,199.73 L144.47,199.17 L145.39,198.62 L146.33,198.06 L147.28,197.50 L148.24,196.94 L149.23,196.38 L150.23,195.82 L151.25,195.26 L152.28,194.70 L153.34,194.14 L154.41,193.58 L155.50,193.02 L156.61,192.46 L157.74,191.90 L158.89,191.34 L160.06,190.78 L161.25,190.23 L162.46,189.67 L163.69,189.11 L164.95,188.55 L166.22,187.99 L167.52,187.43 L168.84,186.87 L170.19,186.31 L171.55,185.75 L172.95,185.19 L174.36,184.63 L175.80,184.07 L177.27,183.51 L178.76,182.95 L180.28,182.39 L181.82,181.83 L183.39,181.28 L184.99,180.72 L186.62,180.16 L188.27,179.60 L189.95,179.04 L191.67,178.48 L193.41,177.92 L195.18,177.36 L196.99,176.80 L198.83,176.24 L200.69,175.68 L202.59,175.12 L204.53,174.56 L206.50,174.00 L208.50,173.44 L210.54,172.88 L212.61,172.33 L214.72,171.77 L216.87,171.21 L219.05,170.65 L221.27,170.09 L223.53,169.53 L225.83,168.97 L228.17,168.41 L230.55,167.85 L232.98,167.29 L235.44,166.73 L237.95,166.17 L240.50,165.61 L243.10,165.05 L245.74,164.49 L248.43,163.94 L251.17,163.38 L253.95,162.82 L256.79,162.26 L259.67,161.70 L262.60,161.14 L265.58,160.58 L268.62,160.02 L271.71,159.46 L274.85,158.90 L278.05,158.34 L281.30,157.78 L284.61,157.22 L287.98,156.66 L291.41,156.10 L294.90,155.54 L298.45,154.99 L302.06,154.43 L305.73,153.87 L309.47,153.31 L313.27,152.75 L317.14,152.19 L321.08,151.63 L325.09,151.07 L329.16,150.51 L333.31,149.95 L337.53,149.39 L341.82,148.83 L346.19,148.27 L350.64,147.71 L355.16,147.15 L359.77,146.60 L364.45,146.04 L369.21,145.48 L374.06,144.92 L378.99,144.36 L384.01,143.80 L389.12,143.24 L394.32,142.68 L399.60,142.12 L404.98,141.56 L410.46,141.00 L416.03,140.44 L421.69,139.88 L427.46,139.32 L433.33,138.76 L439.30,138.20 L445.37,137.65 L451.55,137.09 L457.84,136.53 L464.24,135.97 L470.75,135.41 L477.37,134.85 L484.11,134.29 L490.97,133.73 L497.95,133.17 L505.05,132.61 L512.27,132.05 L519.62,131.49 L527.10,130.93" stroke="#333333" stroke-width="1.5" fill="none"/>
<path d="M105.57,241.67 L105.81,241.06 L106.05,240.46 L106.30,239.86 L106.55,239.26 L106.80,238.66 L107.06,238.06 L107.32,237.46 L107.59,236.87 L107.86,236.27 L108.14,235.67 L108.42,235.08 L108.71,234.49 L109.00,233.89 L109.30,233.30 L109.60,232.71 L109.91,232.12 L110.22,231.53 L110.54,230.94 L110.87,230.35 L111.20,229.76 L111.53,229.17 L111.87,228.58 L112.22,228.00 L112.58,227.41 L112.93,226.83 L113.30,226.25 L113.67,225.66 L114.05,225.08 L114.44,224.50 L114.83,223.92 L115.23,223.34 L115.64,222.76 L116.05,222.18 L116.47,221.60 L116.90,221.03 L117.33,220.45 L117.78,219.88 L118.23,219.30 L118.69,218.73 L119.15,218.15 L119.63,217.58 L120.11,217.01 L120.60,216.44 L121.10,215.87 L121.61,215.30 L122.13,214.73 L122.66,214.16 L123.19,213.60 L123.74,213.03 L124.29,212.47 L124.86,211.90 L125.43,211.34 L126.02,210.77 L126.61,210.21 L127.22,209.65 L127.83,209.09 L128.46,208.53 L129.10,207.97 L129.75,207.41 L130.41,206.85 L131.08,206.29 L131.76,205.74 L132.46,205.18 L133.17,204.63 L133.89,204.07 L134.62,203.52 L135.36,202.97 L136.12,202.41 L136.89,201.86 L137.68,201.31 L138.48,200.76 L139.29,200.21 L140.12,199.67 L140.96,199.12 L141.82,198.57 L142.69,198.03 L143.57,197.48 L144.47,196.94 L145.39,196.39 L146.33,195.85 L147.28,195.31 L148.24,194.77 L149.23,194.23 L150.23,193.69 L151.25,193.15 L152.28,192.61 L153.34,192.07 L154.41,191.53 L155.50,191.00 L156.61,190.46 L157.74,189.93 L158.89,189.39 L160.06,188.86 L161.25,188.33 L162.46,187.80 L163.69,187.27 L164.95,186.74 L166.22,186.21 L167.52,185.68 L168.84,185.15 L170.19,184.62 L171.55,184.10 L172.95,183.57 L174.36,183.05 L175.80,182.52 L177.27,182.00 L178.76,181.48 L180.28,180.95 L181.82,180.43 L183.39,179.91 L184.99,179.39 L186.62,178.88 L188.27,178.36 L189.95,177.84 L191.67,177.32 L193.41,176.81 L195.18,176.29 L196.99,175.78 L198.83,175.26 L200.69,174.75 L202.59,174.24 L204.53,173.73 L206.50,173.22 L208.50,172.71 L210.54,172.20 L212.61,171.69 L214.72,171.18 L216.87,170.68 L219.05,170.17 L221.27,169.67 L223.53,169.16 L225.83,168.66 L228.17,168.15 L230.55,167.65 L232.98,167.15 L235.44,166.65 L237.95,166.15 L240.50,165.65 L243.10,165.15 L245.74,164.66 L248.43,164.16 L251.17,163.66 L253.95,163.17 L256.79,162.67 L259.67,162.18 L262.60,161.69 L265.58,161.19 L268.62,160.70 L271.71,160.21 L274.85,159.72 L278.05,159.23 L281.30,158.74 L284.61,158.25 L287.98,157.77 L291.41,157.28 L294.90,156.80 L298.45,156.31 L302.06,155.83 L305.73,155.34 L309.47,154.86 L313.27,154.38 L317.14,153.90 L321.08,153.42 L325.09,152.94 L329.16,152.46 L333.31,151.98 L337.53,151.50 L341.82,151.03 L346.19,150.55 L350.64,150.08 L355.16,149.60 L359.77,149.13 L364.45,148.66 L369.21,148.18 L374.06,147.71 L378.99,147.24 L384.01,146.77 L389.12,146.30 L394.32,145.83 L399.60,145.37 L404.98,144.90 L410.46,144.43 L416.03,143.97 L421.69,143.50 L427.46,143.04 L433.33,142.58 L439.30,142.12 L445.37,141.65 L451.55,141.19 L457.84,140.73 L464.24,140.27 L470.75,139.82 L477.37,139.36 L484.11,138.90 L490.97,138.44 L497.95,137.99 L505.05,137.53 L512.27,137.08 L519.62,136.63 L527.10,136.17" stroke="#ee8a40" stroke-width="1.5" fill="none"/>
<path d="M105.57,245.94 L105.81,245.34 L106.05,244.74 L106.30,244.15 L106.55,243.55 L106.80,242.95 L107.06,242.35 L107.32,241.75 L107.59,241.16 L107.86,240.56 L108.14,239.96 L108.42,239.36 L108.71,238.77 L109.00,238.17 L109.30,237.57 L109.60,236.97 L109.91,236.37 L110.22,235.78 L110.54,235.18 L110.87,234.58 L111.20,233.98 L111.53,233.38 L111.87,232.79 L112.22,232.19 L112.58,231.59 L112.93,230.99 L113.30,230.39 L113.67,229.80 L114.05,229.20 L114.44,228.60 L114.83,228.00 L115.23,227.41 L115.64,226.81 L116.05,226.21 L116.47,225.61 L116.90,225.01 L117.33,224.42 L117.78,223.82 L118.23,223.22 L118.69,222.62 L119.15,222.02 L119.63,221.43 L120.11,220.83 L120.60,220.23 L121.10,219.63 L121.61,219.03 L122.13,218.44 L122.66,217.84 L123.19,217.24 L123.74,216.64 L124.29,216.04 L124.86,215.45 L125.43,214.85 L126.02,214.25 L126.61,213.65 L127.22,213.06 L127.83,212.46 L128.46,211.86 L129.10,211.26 L129.75,210.66 L130.41,210.07 L131.08,209.47 L131.76,208.87 L132.46,208.27 L133.17,207.67 L133.89,207.08 L134.62,206.48 L135.36,205.88 L136.12,205.28 L136.89,204.68 L137.68,204.09 L138.48,203.49 L139.29,202.89 L140.12,202.29 L140.96,201.70 L141.82,201.10 L142.69,200.50 L143.57,199.90 L144.47,199.30 L145.39,198.71 L146.33,198.11 L147.28,197.51 L148.24,196.91 L149.23,196.31 L150.23,195.72 L151.25,195.12 L152.28,194.52 L153.34,193.92 L154.41,193.32 L155.50,192.73 L156.61,192.13 L157.74,191.53 L158.89,190.93 L160.06,190.34 L161.25,189.74 L162.46,189.14 L163.69,188.54 L164.95,187.94 L166.22,187.35 L167.52,186.75 L168.84,186.15 L170.19,185.55 L171.55,184.95 L172.95,184.36 L174.36,183.76 L175.80,183.16 L177.27,182.56 L178.76,181.96 L180.28,181.37 L181.82,180.77 L183.39,180.17 L184.99,179.57 L186.62,178.97 L188.27,178.38 L189.95,177.78 L191.67,177.18 L193.41,176.58 L195.18,175.99 L196.99,175.39 L198.83,174.79 L200.69,174.19 L202.59,173.59 L204.53,173.00 L206.50,172.40 L208.50,171.80 L210.54,171.20 L212.61,170.60 L214.72,170.01 L216.87,169.41 L219.05,168.81 L221.27,168.21 L223.53,167.61 L225.83,167.02 L228.17,166.42 L230.55,165.82 L232.98,165.22 L235.44,164.63 L237.95,164.03 L240.50,163.43 L243.10,162.83 L245.74,162.23 L248.43,161.64 L251.17,161.04 L253.95,160.44 L256.79,159.84 L259.67,159.24 L262.60,158.65 L265.58,158.05 L268.62,157.45 L271.71,156.85 L274.85,156.25 L278.05,155.66 L281.30,155.06 L284.61,154.46 L287.98,153.86 L291.41,153.27 L294.90,152.67 L298.45,152.07 L302.06,151.47 L305.73,150.87 L309.47,150.28 L313.27,149.68 L317.14,149.08 L321.08,148.48 L325.09,147.88 L329.16,147.29 L333.31,146.69 L337.53,146.09 L341.82,145.49 L346.19,144.89 L350.64,144.30 L355.16,143.70 L359.77,143.10 L364.45,142.50 L369.21,141.90 L374.06,141.31 L378.99,140.71 L384.01,140.11 L389.12,139.51 L394.32,138.92 L399.60,138.32 L404.98,137.72 L410.46,137.12 L416.03,136.52 L421.69,135.93 L427.46,135.33 L433.33,134.73 L439.30,134.13 L445.37,133.53 L451.55,132.94 L457.84,132.34 L464.24,131.74 L470.75,131.14 L477.37,130.54 L484.11,129.95 L490.97,129.35 L497.95,128.75 L505.05,128.15 L512.27,127.56 L519.62,126.96 L527.10,126.36" stroke="#2e8b34" stroke-width="1.5" fill="none"/>
<path d="M105.57,238.53 L105.81,237.78 L106.05,237.03 L106.30,236.28 L106.55,235.53 L106.80,234.78 L107.06,234.03 L107.32,233.28 L107.59,232.53 L107.86,231.78 L108.14,231.03 L108.42,230.28 L108.71,229.53 L109.00,228.78 L109.30,228.03 L109.60,227.28 L109.91,226.53 L110.22,225.78 L110.54,225.03 L110.87,224.28 L111.20,223.53 L111.53,222.78 L111.87,222.03 L112.22,221.28 L112.58,220.53 L112.93,219.78 L113.30,219.03 L113.67,218.28 L114.05,217.53 L114.44,216.78 L114.83,216.03 L115.23,215.28 L115.64,214.53 L116.05,213.78 L116.47,213.03 L116.90,212.28 L117.33,211.53 L117.78,210.78 L118.23,210.03 L118.69,209.28 L119.15,208.53 L119.63,207.78 L120.11,207.03 L120.60,206.28 L121.10,205.53 L121.61,204.78 L122.13,204.03 L122.66,203.28 L123.19,202.53 L123.74,201.78 L124.29,201.03 L124.86,200.28 L125.43,199.53 L126.02,198.77 L126.61,198.02 L127.22,197.27 L127.83,196.52 L128.46,195.77 L129.10,195.02 L129.75,194.27 L130.41,193.52 L131.08,192.77 L131.76,192.02 L132.46,191.27 L133.17,190.52 L133.89,189.77 L134.62,189.02 L135.36,188.27 L136.12,187.52 L136.89,186.77 L137.68,186.02 L138.48,185.27 L139.29,184.52 L140.12,183.77 L140.96,183.02 L141.82,182.27 L142.69,181.52 L143.57,180.77 L144.47,180.02 L145.39,179.27 L146.33,178.52 L147.28,177.77 L148.24,177.02 L149.23,176.27 L150.23,175.52 L151.25,174.77 L152.28,174.02 L153.34,173.27 L154.41,172.52 L155.50,171.77 L156.61,171.02 L157.74,170.27 L158.89,169.52 L160.06,168.77 L161.25,168.02 L162.46,167.27 L163.69,166.52 L164.95,165.77 L166.22,165.02 L167.52,164.27 L168.84,163.52 L170.19,162.77 L171.55,162.02 L172.95,161.27 L174.36,160.52 L175.80,159.77 L177.27,159.02 L178.76,158.27 L180.28,157.52 L181.82,156.77 L183.39,156.02 L184.99,155.27 L186.62,154.52 L188.27,153.77 L189.95,153.02 L191.67,152.27 L193.41,151.52 L195.18,150.77 L196.99,150.02 L198.83,149.27 L200.69,148.52 L202.59,147.77 L204.53,147.02 L206.50,146.27 L208.50,145.52 L210.54,144.77 L212.61,144.02 L214.72,143.27 L216.87,142.52 L219.05,141.77 L221.27,141.02 L223.53,140.27 L225.83,139.52 L228.17,138.77 L230.55,138.02 L232.98,137.27 L235.44,136.52 L237.95,135.77 L240.50,135.02 L243.10,134.27 L245.74,133.52 L248.43,132.77 L251.17,132.02 L253.95,131.27 L256.79,130.52 L259.67,129.77 L262.60,129.02 L265.58,128.27 L268.62,127.52 L271.71,126.77 L274.85,126.02 L278.05,125.27 L281.30,124.52 L284.61,123.77 L287.98,123.02 L291.41,122.27 L294.90,121.52 L298.45,120.76 L302.06,120.01 L305.73,119.26 L309.47,118.51 L313.27,117.76 L317.14,117.01 L321.08,116.26 L325.09,115.51 L329.16,114.76 L333.31,114.01 L337.53,113.26 L341.82,112.51 L346.19,111.76 L350.64,111.01 L355.16,110.26 L359.77,109.51 L364.45,108.76 L369.21,108.01 L374.06,107.26 L378.99,106.51 L384.01,105.76 L389.12,105.01 L394.32,104.26 L399.60,103.51 L404.98,102.76 L410.46,102.01 L416.03,101.26 L421.69,100.51 L427.46,99.76 L433.33,99.01 L439.30,98.26 L445.37,97.51 L451.55,96.76 L457.84,96.01 L464.24,95.26 L470.75,94.51 L477.37,93.76 L484.11,93.01 L490.97,92.26 L497.95,91.51 L505.05,90.76 L512.27,90.01 L519.62,89.26 L527.10,88.51" stroke="#111111" stroke-width="1.5" fill="none"/>
<path d="M105.57,230.55 L105.81,229.82 L106.05,229.09 L106.30,228.36 L106.55,227.64 L106.80,226.91 L107.06,226.18 L107.32,225.45 L107.59,224.72 L107.86,223.99 L108.14,223.27 L108.42,222.54 L108.71,221.81 L109.00,221.08 L109.30,220.35 L109.60,219.62 L109.91,218.90 L110.22,218.17 L110.54,217.44 L110.87,216.71 L111.20,215.98 L111.53,215.25 L111.87,214.53 L112.22,213.80 L112.58,213.07 L112.93,212.34 L113.30,211.61 L113.67,210.88 L114.05,210.16 L114.44,209.43 L114.83,208.70 L115.23,207.97 L115.64,207.24 L116.05,206.51 L116.47,205.79 L116.90,205.06 L117.33,204.33 L117.78,203.60 L118.23,202.87 L118.69,202.14 L119.15,201.42 L119.63,200.69 L120.11,199.96 L120.60,199.23 L121.10,198.50 L121.61,197.77 L122.13,197.05 L122.66,196.32 L123.19,195.59 L123.74,194.86 L124.29,194.13 L124.86,193.40 L125.43,192.68 L126.02,191.95 L126.61,191.22 L127.22,190.49 L127.83,189.76 L128.46,189.03 L129.10,188.31 L129.75,187.58 L130.41,186.85 L131.08,186.12 L131.76,185.39 L132.46,184.66 L133.17,183.94 L133.89,183.21 L134.62,182.48 L135.36,181.75 L136.12,181.02 L136.89,180.29 L137.68,179.57 L138.48,178.84 L139.29,178.11 L140.12,177.38 L140.96,176.65 L141.82,175.92 L142.69,175.20 L143.57,174.47 L144.47,173.74 L145.39,173.01 L146.33,172.28 L147.28,171.55 L148.24,170.82 L149.23,170.10 L150.23,169.37 L151.25,168.64 L152.28,167.91 L153.34,167.18 L154.41,166.45 L155.50,165.73 L156.61,165.00 L157.74,164.27 L158.89,163.54 L160.06,162.81 L161.25,162.08 L162.46,161.36 L163.69,160.63 L164.95,159.90 L166.22,159.17 L167.52,158.44 L168.84,157.71 L170.19,156.99 L171.55,156.26 L172.95,155.53 L174.36,154.80 L175.80,154.07 L177.27,153.34 L178.76,152.62 L180.28,151.89 L181.82,151.16 L183.39,150.43 L184.99,149.70 L186.62,148.97 L188.27,148.25 L189.95,147.52 L191.67,146.79 L193.41,146.06 L195.18,145.33 L196.99,144.60 L198.83,143.88 L200.69,143.15 L202.59,142.42 L204.53,141.69 L206.50,140.96 L208.50,140.23 L210.54,139.51 L212.61,138.78 L214.72,138.05 L216.87,137.32 L219.05,136.59 L221.27,135.86 L223.53,135.14 L225.83,134.41 L228.17,133.68 L230.55,132.95 L232.98,132.22 L235.44,131.49 L237.95,130.77 L240.50,130.04 L243.10,129.31 L245.74,128.58 L248.43,127.85 L251.17,127.12 L253.95,126.40 L256.79,125.67 L259.67,124.94 L262.60,124.21 L265.58,123.48 L268.62,122.75 L271.71,122.03 L274.85,121.30 L278.05,120.57 L281.30,119.84 L284.61,119.11 L287.98,118.38 L291.41,117.66 L294.90,116.93 L298.45,116.20 L302.06,115.47 L305.73,114.74 L309.47,114.01 L313.27,113.29 L317.14,112.56 L321.08,111.83 L325.09,111.10 L329.16,110.37 L333.31,109.64 L337.53,108.91 L341.82,108.19 L346.19,107.46 L350.64,106.73 L355.16,106.00 L359.77,105.27 L364.45,104.54 L369.21,103.82 L374.06,103.09 L378.99,102.36 L384.01,101.63 L389.12,100.90 L394.32,100.17 L399.60,99.45 L404.98,98.72 L410.46,97.99 L416.03,97.26 L421.69,96.53 L427.46,95.80 L433.33,95.08 L439.30,94.35 L445.37,93.62 L451.55,92.89 L457.84,92.16 L464.24,91.43 L470.75,90.71 L477.37,89.98 L484.11,89.25 L490.97,88.52 L497.95,87.79 L505.05,87.06 L512.27,86.34 L519.62,85.61 L527.10,84.88" stroke="#c8283a" stroke-width="1.5" fill="none"/>
<text x="213.30" y="36.80" style="font-size:19px">Sample</text>
<text x="274.50" y="36.80" style="font-size:19px">25.3</text>
<text x="310.30" y="36.80" style="font-size:19px" textLength="79.95" lengthAdjust="spacing">mm-ODD</text>
<text x="395.30" y="36.80" style="font-size:19px">73</text>
<text x="417.20" y="36.80" style="font-size:19px" textLength="30.26" lengthAdjust="spacing">mm</text>
<text x="255.55" y="364.00" style="font-size:19px" textLength="85.40" lengthAdjust="spacing">Integration</text>
<text x="345.80" y="364.00" style="font-size:19px" textLength="34.87" lengthAdjust="spacing">time</text>
<text x="385.90" y="364.00" style="font-size:19px">(s)</text>
<g transform="translate(38.1,201.9) rotate(-90)"><text x="-1.30" y="0" style="font-size:19px">SNRn</text></g>
<path d="M86.7,401.25 H118.7" stroke="#1c1ca0" stroke-width="1.5"/>
<path d="M86.7,425.1 H118.7" stroke="#c4303c" stroke-width="1.5"/>
<path d="M86.7,449.45 H118.7" stroke="#111" stroke-width="1.3"/>
<path d="M86.7,473.4 H118.7" stroke="#e08040" stroke-width="1.5"/>
<path d="M383.3,401.0 H415.3" stroke="#333" stroke-width="1.7"/>
<path d="M383.3,424.9 H415.3" stroke="#3a8a3a" stroke-width="1.6"/>
<path d="M383.3,448.9 H415.3" stroke="#8a8a8a" stroke-width="1.6"/>
<text x="130.30" y="408.30" style="font-size:18px" textLength="68.18" lengthAdjust="spacing">Required</text>
<text x="204.30" y="408.30" style="font-size:18px" textLength="29.10" lengthAdjust="spacing">ISO</text>
<text x="239.10" y="408.30" style="font-size:18px" textLength="61.59" lengthAdjust="spacing">10893-7</text>
<text x="305.50" y="408.30" style="font-size:18px" textLength="34.09" lengthAdjust="spacing">class</text>
<text transform="translate(344.60,408.30) scale(1.0,1)" style="font-size:18px">B</text>
<text x="129.80" y="432.20" style="font-size:18px">P1</text>
<text x="129.90" y="456.20" style="font-size:18px">P2</text>
<text x="129.90" y="480.40" style="font-size:18px">P3</text>
<text x="428.00" y="408.30" style="font-size:18px">P4</text>
<text x="428.00" y="432.20" style="font-size:18px">P5</text>
<text x="428.00" y="456.20" style="font-size:18px">P6</text>
</svg></body></html>
